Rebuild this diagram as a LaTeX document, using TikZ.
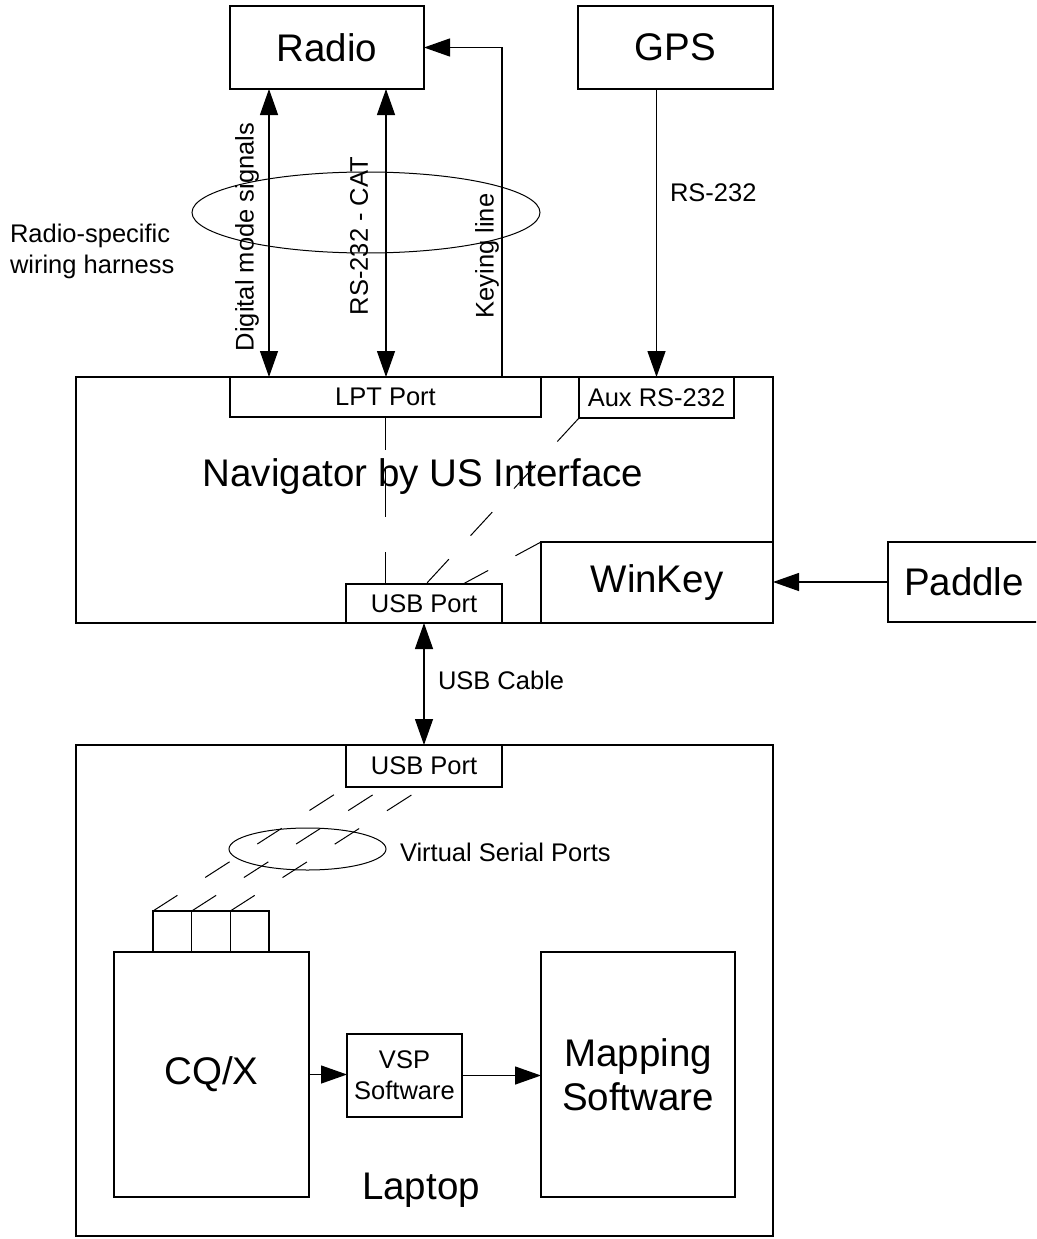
\documentclass[tikz,border=0pt]{standalone}
\usepackage{fontspec}
\setmainfont{Liberation Sans}
\usetikzlibrary{arrows.meta,shapes.geometric,calc}
\newcommand{\bigf}{\fontsize{38.5}{44}\selectfont}
\newcommand{\smallf}{\fontsize{25.5}{31}\selectfont}
\begin{document}
\begin{tikzpicture}[x=1pt,y=-1pt,
  box/.style={draw, line width=1.3pt, inner sep=0pt, outer sep=0pt, rectangle},
  big/.style={font=\bigf},
  small/.style={font=\smallf},
  lbl/.style={inner sep=0pt, outer sep=0pt},
  harness/.style={draw, ellipse, line width=1pt, inner sep=0pt, outer sep=0pt},
  conn/.style={line width=1.3pt, -{Triangle[length=26pt,width=18pt]}},
  bothconn/.style={line width=1.3pt, {Triangle[length=26pt,width=18pt]}-{Triangle[length=26pt,width=18pt]}},
  virt/.style={line width=1pt}
]
\useasboundingbox (0,0) rectangle (1036,1239);
\fill[white] (0,0) rectangle (1036,1239);
\clip (0,0) rectangle (1036,1239);

% top boxes
\node[box, big, minimum width=194pt, minimum height=83pt] (radio) at (327,47.5) {Radio};
\node[box, big, minimum width=195pt, minimum height=83pt] (gps) at (675.5,47.5) {GPS};

% navigator
\node[box, minimum width=697pt, minimum height=246pt] (nav) at (424.5,500) {};
\node[lbl, big] (navtext) at (423,477) {Navigator by US Interface};
\node[box, small, minimum width=311pt, minimum height=40pt] (lpt) at (385.5,397) {LPT Port};
\node[box, small, minimum width=155pt, minimum height=41pt] (aux) at (656.5,397.5) {Aux RS-232};
\node[box, small, minimum width=156pt, minimum height=39pt] (usbn) at (424,603.5) {USB Port};
\node[box, big, minimum width=232pt, minimum height=81pt] (winkey) at (657,582.5) {WinKey};
\node[box, big, minimum width=152pt, minimum height=80pt] (paddle) at (964,582) {Paddle};

% harness
\node[harness, minimum width=348pt, minimum height=81pt] (harn) at (366,212.5) {};
\node[lbl, small, align=left, anchor=west] (harntext) at (10,251) {Radio-specific\\wiring harness};

% connectors to radio
\coordinate (dm) at (269,0);
\coordinate (cat) at (386,0);
\coordinate (kx) at (502,0);
\draw[bothconn] (radio.south -| dm) -- (lpt.north -| dm);
\draw[bothconn] (radio.south -| cat) -- (lpt.north -| cat);
\draw[conn] (lpt.north -| kx) |- (radio.east);
\node[lbl, small, rotate=90] (dmtext) at (247,237) {Digital mode signals};
\node[lbl, small, rotate=90] (cattext) at (359,236) {RS-232 - CAT};
\node[lbl, small, rotate=90] (keytext) at (487,256) {Keying line};

% GPS
\draw[conn] (aux.north |- gps.south) -- (aux.north);
\node[lbl, small, anchor=west] (gpstext) at (670,193) {RS-232};

% paddle
\draw[conn] (paddle.west) -- (winkey.east |- paddle.west);

% internal dashed lines of navigator
\draw[virt, dash pattern=on 33pt off 17pt on 50pt off 35pt] (lpt.south) -- (usbn.north -| lpt.south);
\draw[virt, dash pattern=on 32pt off 32pt] (aux.south west) -- ($(usbn.north)+(2,0)$);
\draw[virt, dash pattern=on 29pt off 31pt] (winkey.north west) -- ($(usbn.north west)!0.75!(usbn.north east)$);

% laptop
\node[box, minimum width=697pt, minimum height=491pt] (laptop) at (424.5,990.5) {};
\node[lbl, big] (laptext) at (421,1190) {Laptop};
\node[box, small, minimum width=156pt, minimum height=42pt] (usbl) at (424,766) {USB Port};
\draw[bothconn] (usbn.south) -- (usbl.north);
\node[lbl, small, anchor=west] (usbtext) at (438,680) {USB Cable};

\node[box, minimum width=38.7pt, minimum height=41pt] (p1) at (172.35,931.5) {};
\node[box, minimum width=38.7pt, minimum height=41pt] (p2) at (211.05,931.5) {};
\node[box, minimum width=38.7pt, minimum height=41pt] (p3) at (249.65,931.5) {};
\node[box, big, minimum width=195pt, minimum height=245pt] (cqx) at (211.5,1074.5) {CQ/X};
\node[box, small, align=center, minimum width=115pt, minimum height=83pt] (vsp) at (404.5,1075.5) {VSP\\Software};
\node[box, big, align=center, minimum width=194pt, minimum height=245pt] (map) at (638,1074.5) {Mapping\\Software};

\node[harness, minimum width=157pt, minimum height=42pt] (vell) at (307.5,849) {};
\node[lbl, small, anchor=west] (vtext) at (400,852) {Virtual Serial Ports};

\draw[virt, dash pattern=on 29pt off 33pt] (p1.north west) -- (usbl.south west);
\draw[virt, dash pattern=on 29pt off 33pt] (p2.north west) -- ($(usbl.south west)!0.25!(usbl.south east)$);
\draw[virt, dash pattern=on 29pt off 33pt] (p3.north west) -- ($(usbl.south west)!0.5!(usbl.south east)$);

\draw[conn] (cqx.east) -- (vsp.west |- cqx.east);
\draw[conn] (vsp.east) -- (map.west |- vsp.east);
\end{tikzpicture}
\end{document}
